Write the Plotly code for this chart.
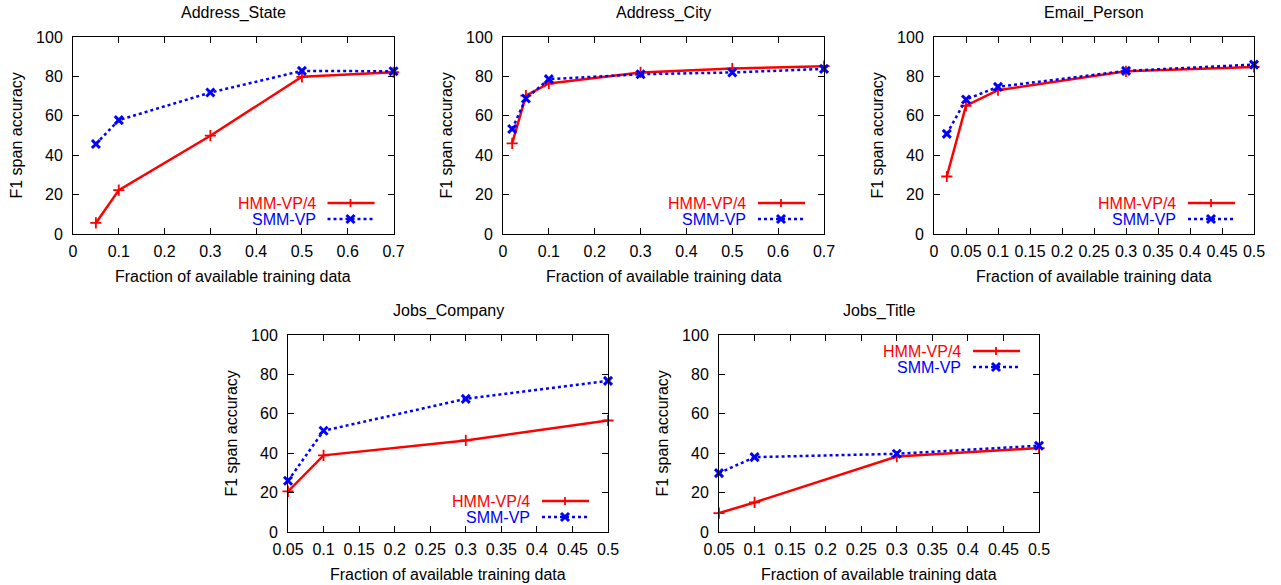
import plotly.graph_objects as go

W, H = 1281, 585

# ---------------- data ----------------
titles = ["Address_State", "Address_City", "Email_Person", "Jobs_Company", "Jobs_Title"]

x_state = [0.05, 0.1, 0.3, 0.5, 0.7]
hmm_state = [5.6, 22.3, 49.9, 79.8, 82.1]
smm_state = [45.7, 57.8, 71.8, 82.8, 82.6]

x_city = [0.02, 0.05, 0.1, 0.3, 0.5, 0.7]
hmm_city = [46.0, 70.2, 76.4, 82.0, 84.0, 85.2]
smm_city = [53.3, 68.8, 78.6, 81.1, 82.0, 83.8]

x_email = [0.02, 0.05, 0.1, 0.3, 0.5]
hmm_email = [29.2, 65.1, 73.0, 82.6, 84.8]
smm_email = [50.8, 68.3, 74.7, 82.8, 86.0]

x_company = [0.05, 0.1, 0.3, 0.5]
hmm_company = [20.6, 38.9, 46.5, 56.6]
smm_company = [26.0, 51.4, 67.6, 76.7]

x_title = [0.05, 0.1, 0.3, 0.5]
hmm_title = [9.6, 15.0, 38.3, 42.6]
smm_title = [29.9, 38.0, 39.7, 43.8]

series_names = ["HMM-VP/4", "SMM-VP"]
x_ranges = [[0, 0.7], [0, 0.7], [0, 0.5], [0.05, 0.5], [0.05, 0.5]]
x_dticks = [0.1, 0.1, 0.05, 0.05, 0.05]
y_range = [0, 100]
y_dtick = 20
x_label = "Fraction of available training data"
y_label = "F1 span accuracy"

datasets = [
    (x_state, hmm_state, smm_state),
    (x_city, hmm_city, smm_city),
    (x_email, hmm_email, smm_email),
    (x_company, hmm_company, smm_company),
    (x_title, hmm_title, smm_title),
]

# ---------------- layout (pixel boxes of each plot frame) ----------------
boxes = [  # left, right, top, bottom (pixels)
    (73, 393.5, 37, 234),
    (503, 824, 37, 234),
    (934, 1254, 37, 234),
    (288, 608, 335, 532),
    (719, 1039, 335, 532),
]
legend_top = [False, False, False, False, True]

RED = "#ff0000"
BLUE = "#0000ff"
FONT = "Liberation Sans, Arial, Helvetica, sans-serif"
FS = 16


def px(x):
    return x / W


def py(y):
    return 1 - y / H


fig = go.Figure()
annotations = []
shapes = []

for i, ((xs, hs, ss), (l, r, t, b)) in enumerate(zip(datasets, boxes)):
    n = "" if i == 0 else str(i + 1)
    xa, ya = "x" + n, "y" + n
    fig.add_trace(go.Scatter(
        x=xs, y=hs, mode="lines+markers", name=series_names[0],
        xaxis=xa, yaxis=ya, showlegend=False, cliponaxis=False,
        line=dict(color=RED, width=2.5),
        marker=dict(symbol="cross-thin", size=8, line=dict(color=RED, width=1.8)),
    ))
    fig.add_trace(go.Scatter(
        x=xs, y=ss, mode="lines+markers", name=series_names[1],
        xaxis=xa, yaxis=ya, showlegend=False, cliponaxis=False,
        line=dict(color=BLUE, width=2.5, dash="dot"),
        marker=dict(symbol="x-thin", size=8, line=dict(color=BLUE, width=3)),
    ))
    axis_common = dict(
        showline=True, mirror="allticks", linecolor="black", linewidth=1,
        ticks="inside", ticklen=6, tickwidth=1, tickcolor="black",
        showgrid=False, zeroline=False, automargin=False,
        tickfont=dict(family=FONT, size=FS, color="black"),
    )
    fig.update_layout({
        "xaxis" + n: dict(domain=[px(l), px(r)], anchor=ya, range=x_ranges[i],
                          dtick=x_dticks[i], tick0=0, ticklabelstandoff=3,
                          **axis_common),
        "yaxis" + n: dict(domain=[py(b), py(t)], anchor=xa, range=y_range,
                          dtick=y_dtick, tick0=0, ticklabelstandoff=6,
                          **axis_common),
    })
    cx = (l + r) / 2
    annotations.append(dict(text=titles[i], x=px(cx), y=py(t - 24), xref="paper", yref="paper",
                            showarrow=False, xanchor="center", yanchor="middle",
                            font=dict(family=FONT, size=FS, color="black")))
    annotations.append(dict(text=x_label, x=px(cx), y=py(b + 42), xref="paper", yref="paper",
                            showarrow=False, xanchor="center", yanchor="middle",
                            font=dict(family=FONT, size=FS, color="black")))
    annotations.append(dict(text=y_label, x=px(l - 57), y=py((t + b) / 2), xref="paper",
                            yref="paper", showarrow=False, textangle=-90,
                            xanchor="center", yanchor="middle",
                            font=dict(family=FONT, size=FS, color="black")))
    # gnuplot-style key: text right-aligned, then sample line with marker
    if legend_top[i]:
        rows = [t + 16, t + 32]
    else:
        rows = [b - 31, b - 15]
    for k, (yy, col) in enumerate(zip(rows, [RED, BLUE])):
        annotations.append(dict(text=series_names[k], x=px(r - 76), y=py(yy), xref="paper",
                                yref="paper", showarrow=False, xanchor="right",
                                yanchor="middle",
                                font=dict(family=FONT, size=FS, color=col)))
        shapes.append(dict(type="line", xref="paper", yref="paper",
                           x0=px(r - 66), x1=px(r - 19), y0=py(yy), y1=py(yy),
                           line=dict(color=col, width=2.5,
                                     dash="solid" if k == 0 else "dot")))
        mx = r - 43
        if k == 0:
            shapes.append(dict(type="line", xref="paper", yref="paper",
                               x0=px(mx), x1=px(mx), y0=py(yy - 4), y1=py(yy + 4),
                               line=dict(color=col, width=1.8)))
        else:
            for d in (1, -1):
                shapes.append(dict(type="line", xref="paper", yref="paper",
                                   x0=px(mx - 4), x1=px(mx + 4),
                                   y0=py(yy - 4 * d), y1=py(yy + 4 * d),
                                   line=dict(color=col, width=3)))

fig.update_layout(
    width=W, height=H,
    margin=dict(l=0, r=0, t=0, b=0),
    paper_bgcolor="white", plot_bgcolor="white",
    showlegend=False,
    annotations=annotations,
    shapes=shapes,
    font=dict(family=FONT, size=FS, color="black"),
)

fig.write_html("out.html", config={"displayModeBar": False},
               post_script="document.body.style.margin='0';document.body.style.overflow='hidden';")
